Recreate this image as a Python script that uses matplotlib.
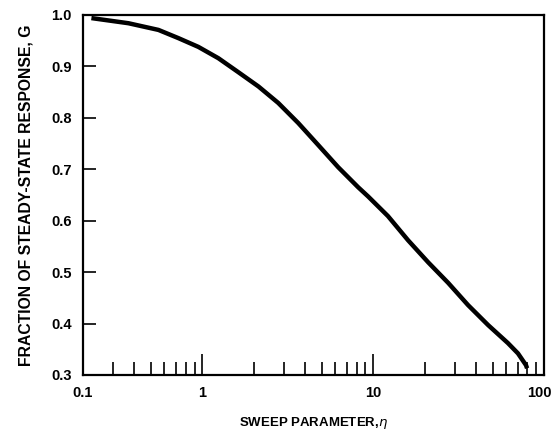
import matplotlib
matplotlib.use("Agg")
import matplotlib.pyplot as plt
import matplotlib.transforms as mtransforms
from matplotlib.ticker import FixedLocator, LogLocator, NullFormatter, FixedFormatter

# Data
sweep = [0.224, 0.369, 0.553, 0.724, 0.947, 1.24, 1.62, 2.13, 2.78, 3.64,
         4.77, 6.24, 8.17, 9.35, 12.2, 16.0, 21.0, 27.5, 35.9, 47.1,
         61.5, 70.4, 78.5, 79.6]
fraction = [0.994, 0.984, 0.971, 0.955, 0.938, 0.916, 0.889, 0.861, 0.829, 0.790,
            0.747, 0.704, 0.665, 0.647, 0.609, 0.562, 0.519, 0.479, 0.436, 0.397,
            0.362, 0.342, 0.319, 0.313]

xtick_pos = [0.2, 1, 10, 100]
xtick_labels = ["0.1", "1", "10", "100"]
ytick_pos = [0.3, 0.4, 0.5, 0.6, 0.7, 0.8, 0.9, 1.0]
ytick_labels = ["0.3", "0.4", "0.5", "0.6", "0.7", "0.8", "0.9", "1.0"]

plt.rcParams['font.family'] = ['Liberation Sans', 'DejaVu Sans']

fig = plt.figure(figsize=(5.54, 4.33), dpi=100)
ax = fig.add_axes([83/554, 1 - 375/433, (544 - 83)/554, (375 - 15)/433])

ax.plot(sweep, fraction, color='black', lw=3.2, solid_capstyle='butt',
        solid_joinstyle='round')

ax.set_xscale('log')
ax.set_xlim(0.2, 100)
ax.set_ylim(0.3, 1.0)

ax.xaxis.set_major_locator(FixedLocator(xtick_pos))
ax.xaxis.set_major_formatter(FixedFormatter(xtick_labels))
ax.xaxis.set_minor_locator(LogLocator(base=10, subs=[2, 3, 4, 5, 6, 7, 8, 9]))
ax.xaxis.set_minor_formatter(NullFormatter())
ax.yaxis.set_major_locator(FixedLocator(ytick_pos))
ax.yaxis.set_major_formatter(FixedFormatter(ytick_labels))

ax.tick_params(axis='x', which='major', direction='in', length=15, width=1.2,
               pad=8, labelsize=10.5)
ax.tick_params(axis='x', which='minor', direction='in', length=9.5, width=1.2)
ax.tick_params(axis='y', which='major', direction='in', length=9, width=1.2,
               pad=8, labelsize=10.5)
for lab in ax.get_xticklabels() + ax.get_yticklabels():
    lab.set_fontweight('bold')

fig.canvas.draw()
last = ax.get_xticklabels()[-1]
last.set_transform(last.get_transform() +
                   mtransforms.ScaledTranslation(-5/100, 0, fig.dpi_scale_trans))

for s in ax.spines.values():
    s.set_linewidth(1.6)

ax.set_xlabel("SWEEP PARAMETER,$\\eta$", fontsize=9.5, fontweight='bold', labelpad=11)
ax.set_ylabel("FRACTION OF STEADY-STATE RESPONSE, G", fontsize=11.3,
              fontweight='bold', labelpad=13)

fig.savefig("out.png", dpi=100)
